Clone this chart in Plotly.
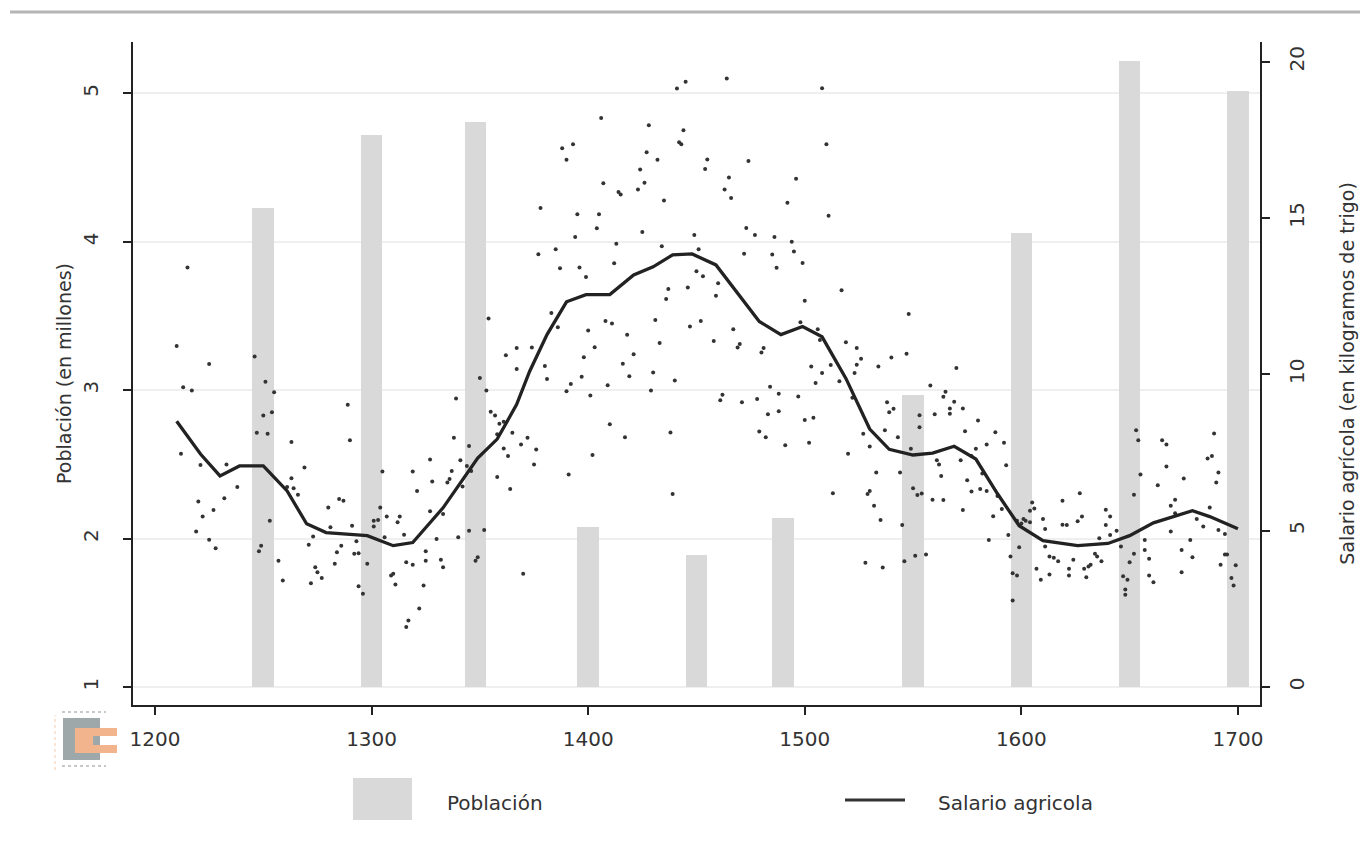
import plotly.graph_objects as go

# ---------------- data ----------------
bar_years = [1250, 1300, 1348, 1400, 1450, 1490, 1550, 1600, 1650, 1700]
poblacion = [4.23, 4.72, 4.81, 2.08, 1.89, 2.14, 2.97, 4.06, 5.22, 5.02]

line_years = [1210, 1221, 1230, 1239, 1250, 1261, 1270, 1279, 1298, 1310, 1319, 1333,
              1349, 1358, 1367, 1373, 1381, 1390, 1399, 1410, 1421, 1430, 1439, 1448,
              1459, 1469, 1479, 1489, 1499, 1508, 1519, 1530, 1539, 1550, 1559, 1569,
              1579, 1589, 1599, 1610, 1626, 1640, 1650, 1661, 1679, 1687, 1700]
salario_suav = [8.5, 7.45, 6.75, 7.07, 7.07, 6.27, 5.22, 4.94, 4.84, 4.52, 4.62, 5.73,
                7.32, 7.93, 9.04, 10.1, 11.27, 12.32, 12.55, 12.55, 13.18, 13.44, 13.82, 13.85,
                13.5, 12.6, 11.69, 11.27, 11.53, 11.2, 9.87, 8.25, 7.6, 7.42, 7.48, 7.7,
                7.29, 6.18, 5.16, 4.68, 4.52, 4.59, 4.84, 5.25, 5.64, 5.45, 5.06]

dot_years_a = [1215, 1210, 1213, 1217, 1212, 1225, 1221, 1220, 1222, 1219, 1227, 1225, 1228,
               1233, 1232, 1238, 1246, 1251, 1250, 1247, 1252, 1255, 1254, 1253, 1249, 1248,
               1257, 1259, 1263, 1263, 1261, 1264, 1266, 1269, 1271, 1273, 1274, 1275, 1277,
               1272, 1280, 1281, 1285, 1287, 1289, 1290, 1291, 1286, 1283, 1284, 1293, 1292,
               1294, 1294, 1296, 1298, 1305, 1304, 1303, 1301, 1301, 1307, 1306, 1310, 1309,
               1311, 1313, 1312, 1315, 1316, 1319, 1317, 1316, 1319, 1321, 1322, 1324, 1325,
               1325, 1327, 1328, 1327, 1330, 1332, 1333, 1333, 1335, 1336, 1337, 1338, 1339,
               1340, 1341, 1342, 1344, 1345, 1345, 1346, 1348, 1349, 1350, 1352, 1353, 1354,
               1355, 1357, 1358, 1358, 1359, 1361, 1361, 1362, 1363, 1364, 1365, 1367, 1367,
               1369, 1370, 1372]
dot_vals_a = [13.42, 10.91, 9.59, 9.48, 7.46, 10.33, 7.10, 5.93, 5.45, 4.97, 5.66, 4.71, 4.44,
              7.12, 6.04, 6.40, 10.57, 9.76, 8.68, 8.13, 8.10, 9.43, 8.79, 5.32, 4.52, 4.34,
              4.04, 3.41, 7.84, 6.68, 6.40, 6.36, 6.15, 7.02, 4.55, 4.81, 3.83, 3.67, 3.49,
              3.32, 5.74, 5.11, 6.01, 5.96, 9.03, 7.89, 5.16, 4.52, 3.94, 4.31, 4.66, 4.26,
              4.28, 3.22, 2.98, 3.94, 6.89, 5.74, 5.34, 5.32, 5.13, 5.45, 4.79, 3.62, 3.57,
              3.28, 5.45, 5.27, 4.87, 3.99, 3.91, 2.13, 1.92, 6.89, 6.27, 2.51, 3.25, 4.34,
              4.04, 5.62, 6.57, 7.28, 4.73, 4.07, 3.83, 5.53, 6.54, 6.65, 6.91, 7.97, 9.23,
              4.79, 7.25, 6.41, 7.07, 5.00, 7.71, 6.91, 4.04, 4.15, 9.88, 5.02, 9.48, 11.79,
              8.80, 8.68, 8.08, 6.72, 8.42, 7.63, 8.48, 10.61, 7.39, 6.33, 8.13, 10.84, 10.17,
              7.76, 3.62, 7.97]

dot_years_b = [1445, 1441, 1464, 1508, 1406, 1428, 1444, 1388, 1393, 1390, 1442, 1443, 1427,
               1432, 1455, 1454, 1474, 1510, 1424, 1465, 1496, 1407, 1426, 1423, 1414, 1415,
               1463, 1466, 1435, 1492, 1378, 1395, 1405, 1511, 1404, 1425, 1473, 1449, 1477,
               1486, 1394, 1413, 1494, 1434, 1385, 1377, 1451, 1472, 1485, 1495, 1412, 1387,
               1396, 1499, 1487, 1399, 1450, 1453, 1460, 1446, 1437, 1459, 1436, 1500, 1517,
               1383, 1386, 1431, 1408, 1411, 1452, 1447, 1400, 1418, 1467, 1498, 1506, 1507,
               1519, 1433, 1458, 1403, 1470, 1469, 1481, 1480, 1374, 1421, 1398, 1380, 1416,
               1503, 1512, 1508, 1430, 1419, 1397, 1381, 1440, 1516, 1392, 1409, 1505, 1484,
               1429, 1390, 1488, 1401, 1497, 1462, 1461, 1471, 1478, 1488, 1483, 1410, 1504,
               1500, 1479, 1482, 1417, 1438, 1491, 1502, 1520, 1402, 1391, 1513, 1439, 1376,
               1375]
dot_vals_b = [19.36, 19.14, 19.46, 19.15, 18.20, 17.97, 17.81, 17.23, 17.36, 16.86, 17.42, 17.36, 17.10,
              16.86, 16.87, 16.57, 16.82, 17.36, 16.55, 16.30, 16.26, 16.11, 16.13, 15.91, 15.83, 15.75,
              15.91, 15.64, 15.56, 15.49, 15.32, 15.12, 15.12, 15.07, 14.67, 14.55, 14.68, 14.46, 14.46,
              14.39, 14.39, 14.18, 14.24, 14.10, 14.00, 13.84, 14.00, 13.86, 13.83, 13.93, 13.55, 13.39,
              13.42, 13.56, 13.41, 13.11, 13.30, 13.14, 12.91, 12.78, 12.73, 12.51, 12.41, 12.35, 12.69,
              11.96, 11.51, 11.74, 11.71, 11.63, 11.71, 11.53, 11.40, 11.27, 11.44, 11.67, 11.44, 11.10,
              11.03, 11.00, 11.07, 10.87, 10.97, 10.86, 10.84, 10.70, 10.86, 10.64, 10.55, 10.27, 10.34,
              10.25, 10.30, 10.04, 10.06, 9.94, 9.92, 9.85, 9.80, 9.78, 9.69, 9.65, 9.72, 9.60,
              9.48, 9.46, 9.38, 9.32, 9.29, 9.35, 9.17, 9.11, 9.21, 8.82, 8.72, 8.40, 8.61,
              8.54, 8.17, 7.99, 7.99, 8.14, 7.73, 7.81, 7.46, 7.42, 6.80, 6.20, 6.17, 7.60,
              7.12]

dot_years_c = [1548, 1524, 1524, 1526, 1523, 1522, 1534, 1540, 1547, 1538, 1541, 1539, 1537,
               1527, 1543, 1530, 1570, 1558, 1565, 1564, 1569, 1567, 1567, 1573, 1560, 1553,
               1553, 1549, 1574, 1580, 1579, 1588, 1584, 1592, 1577, 1572, 1561, 1562, 1563,
               1544, 1533, 1582, 1575, 1577, 1581, 1584, 1593, 1530, 1529, 1532, 1535, 1545,
               1550, 1552, 1554, 1559, 1564, 1573, 1587, 1589, 1591, 1585, 1605, 1606, 1604,
               1602, 1601, 1604, 1598, 1600, 1610, 1611, 1619, 1627, 1628, 1626, 1619, 1621,
               1611, 1599, 1594, 1595, 1596, 1598, 1596, 1613, 1615, 1617, 1607, 1609, 1613,
               1622, 1622, 1624, 1629, 1631, 1632, 1634, 1635, 1637, 1630, 1636, 1639, 1641,
               1639, 1641, 1644, 1646, 1647, 1649, 1648, 1648, 1650, 1652, 1652, 1653, 1654,
               1655, 1657, 1657, 1659, 1659, 1661, 1665, 1667, 1667, 1663, 1671, 1669, 1671,
               1675, 1681, 1684, 1687, 1686, 1688, 1689, 1691, 1690, 1691, 1694, 1678, 1679,
               1674, 1669, 1674, 1692, 1694, 1695, 1697, 1699, 1698, 1551, 1556, 1528, 1536,
               1546]
dot_vals_c = [11.93, 10.84, 10.31, 10.50, 10.04, 9.25, 10.25, 10.54, 10.66, 9.11, 8.90, 8.79, 8.21,
              8.10, 7.99, 7.69, 10.20, 9.64, 9.44, 9.28, 9.12, 8.91, 8.74, 8.91, 8.72, 8.69,
              8.31, 7.62, 8.18, 8.52, 7.62, 8.15, 7.76, 7.81, 7.39, 7.25, 7.25, 7.12, 6.75,
              6.86, 6.86, 6.83, 6.61, 6.25, 6.33, 6.27, 7.09, 6.27, 6.17, 5.80, 5.34, 5.18,
              6.36, 6.14, 6.19, 5.99, 5.98, 5.66, 5.46, 6.11, 5.69, 4.70, 5.90, 5.71, 5.64,
              5.32, 5.37, 5.27, 5.32, 5.23, 5.37, 5.05, 5.96, 6.20, 5.45, 5.30, 5.19, 5.18,
              4.49, 4.47, 4.86, 4.17, 3.64, 3.57, 2.77, 4.17, 4.13, 4.02, 3.78, 3.43, 3.60,
              3.57, 3.78, 4.07, 3.78, 3.85, 3.91, 4.26, 4.17, 4.02, 3.51, 4.76, 5.67, 5.45,
              5.18, 4.86, 5.00, 4.49, 3.54, 3.43, 3.12, 2.95, 3.99, 4.26, 6.15, 8.21, 7.89,
              6.80, 4.70, 4.38, 4.10, 3.57, 3.35, 7.89, 7.76, 7.05, 6.45, 5.99, 5.80, 5.56,
              6.67, 5.37, 5.13, 5.74, 7.31, 7.39, 8.11, 6.86, 6.54, 5.02, 4.89, 4.70, 4.15,
              4.38, 4.97, 3.67, 3.91, 4.24, 4.24, 3.49, 3.89, 3.25, 4.20, 4.24, 3.97, 3.82,
              4.02]

dot_years = dot_years_a + dot_years_b + dot_years_c
dot_vals = dot_vals_a + dot_vals_b + dot_vals_c

x_ticks = [1200, 1300, 1400, 1500, 1600, 1700]
y_left_ticks = [1, 2, 3, 4, 5]
y_right_ticks = [0, 5, 10, 15, 20]

# ---------------- layout geometry (page pixels) ----------------
OFF = 8                     # default body margin of the html page
W, H = 1368 - OFF, 863 - OFF
PX0, PX1, PY0, PY1 = 133, 1260, 42, 705   # plot area on the page: left, right, top, bottom


def px(x):
    return (x - PX0) / (PX1 - PX0)


def py(y):
    return (PY1 - y) / (PY1 - PY0)


FONT = "DejaVu Sans"
TXT = "#333333"

fig = go.Figure()

fig.add_trace(go.Bar(
    x=bar_years, y=[v - 1 for v in poblacion], base=1, width=10,
    marker=dict(color="#d9d9d9", line=dict(width=0)),
    name="Población", yaxis="y", showlegend=False, hoverinfo="x+y"))

fig.add_trace(go.Scatter(
    x=dot_years, y=dot_vals, mode="markers", yaxis="y2",
    marker=dict(size=4, color="#333333"), showlegend=False))

fig.add_trace(go.Scatter(
    x=line_years, y=salario_suav, mode="lines", yaxis="y2",
    line=dict(color="#222222", width=3.3), name="Salario agricola", showlegend=False))

axis_common = dict(showline=True, linecolor="#222222", linewidth=1.5, ticks="outside",
                   ticklen=8, tickwidth=1.5, tickcolor="#222222", zeroline=False,
                   tickfont=dict(family=FONT, size=20, color=TXT))

fig.update_layout(
    width=W, height=H, autosize=False,
    margin=dict(l=PX0 - OFF, r=W - (PX1 - OFF), t=PY0 - OFF, b=H - (PY1 - OFF), pad=0),
    paper_bgcolor="white", plot_bgcolor="white",
    bargap=0,
    xaxis=dict(range=[1189.84, 1710.2], tickvals=x_ticks, showgrid=False,
               ticklabelstandoff=7, **axis_common),
    yaxis=dict(range=[0.8787, 5.347], tickvals=y_left_ticks, tickangle=-90,
               showgrid=True, gridcolor="#efefef", gridwidth=1.5, ticklabelstandoff=17,
               title=dict(text="Población (en millones)", font=dict(family=FONT, size=19, color=TXT),
                          standoff=3),
               **axis_common),
    yaxis2=dict(range=[-0.576, 20.63], tickvals=y_right_ticks, tickangle=-90,
                overlaying="y", side="right", showgrid=False, ticklabelstandoff=10,
                title=dict(text="Salario agrícola (en kilogramos de trigo)",
                           font=dict(family=FONT, size=19, color=TXT), standoff=33),
                **axis_common),
)

shapes = []
# page separator line at top
shapes.append(dict(type="line", xref="paper", yref="paper", x0=px(10), x1=px(1368),
                   y0=py(12), y1=py(12), line=dict(color="#b5b5b5", width=3)))
# legend symbols
shapes.append(dict(type="rect", xref="paper", yref="paper", x0=px(353), x1=px(412),
                   y0=py(820), y1=py(778), fillcolor="#d9d9d9", line=dict(width=0)))
shapes.append(dict(type="line", xref="paper", yref="paper", x0=px(845), x1=px(905),
                   y0=py(800), y1=py(800), line=dict(color="#333333", width=3)))
# small logo at bottom left
shapes.append(dict(type="rect", xref="paper", yref="paper", x0=px(63), x1=px(100),
                   y0=py(760), y1=py(718), fillcolor="#9ea8aa", line=dict(width=0)))
for (a, b, c, d) in [(75, 728, 93, 753), (93, 728, 117, 736), (93, 745, 117, 753)]:
    shapes.append(dict(type="rect", xref="paper", yref="paper", x0=px(a), x1=px(c),
                       y0=py(d), y1=py(b), fillcolor="#f2b48c", line=dict(width=0)))
shapes.append(dict(type="line", xref="paper", yref="paper", x0=px(55), x1=px(55),
                   y0=py(770), y1=py(715), line=dict(color="#f5c9aa", width=1, dash="dot")))
for yy in (712, 766):
    shapes.append(dict(type="line", xref="paper", yref="paper", x0=px(62), x1=px(106),
                       y0=py(yy), y1=py(yy), line=dict(color="#c8c8c8", width=2, dash="dot")))
fig.update_layout(shapes=shapes)

fig.add_annotation(text="Población", xref="paper", yref="paper", x=px(445), y=py(803),
                   xanchor="left", yanchor="middle", showarrow=False,
                   font=dict(family=FONT, size=20, color=TXT))
fig.add_annotation(text="Salario agricola", xref="paper", yref="paper", x=px(936), y=py(803),
                   xanchor="left", yanchor="middle", showarrow=False,
                   font=dict(family=FONT, size=20, color=TXT))

fig.write_html("out.html")
